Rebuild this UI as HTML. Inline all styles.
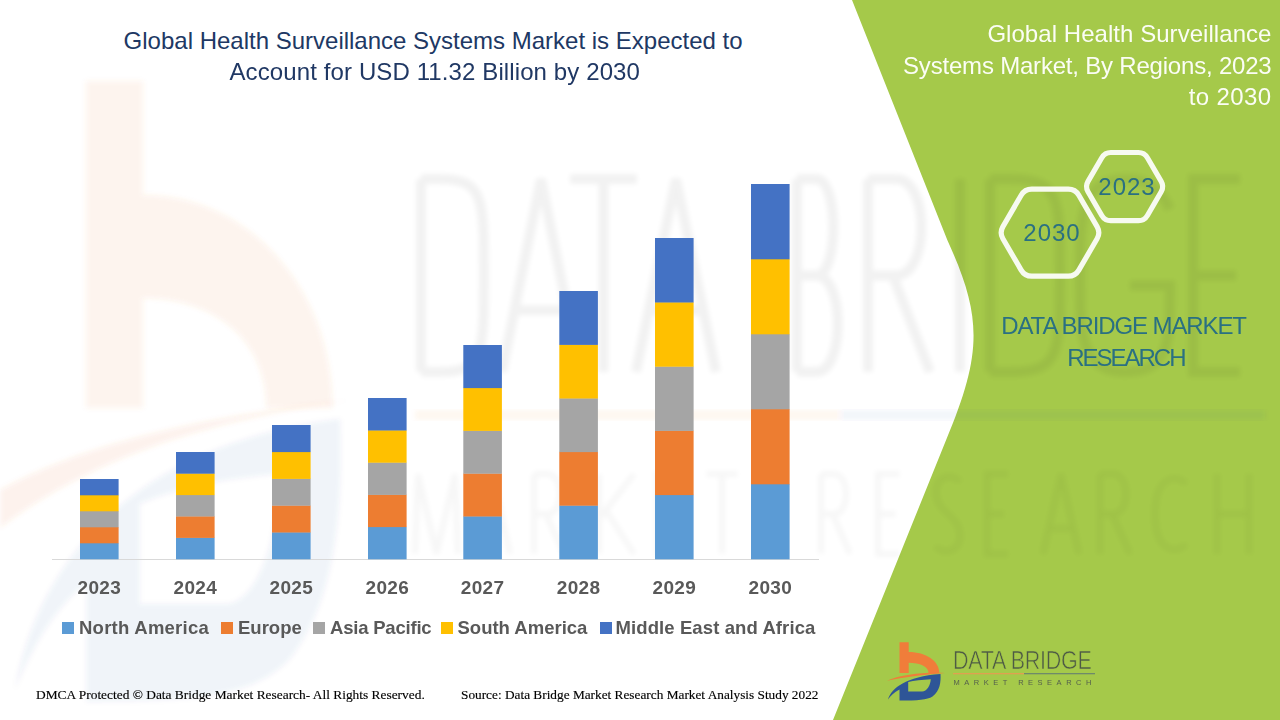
<!DOCTYPE html>
<html><head><meta charset="utf-8">
<style>
html,body{margin:0;padding:0;}
body{width:1280px;height:720px;position:relative;overflow:hidden;background:#fff;font-family:"Liberation Sans",sans-serif;}
.a{position:absolute;white-space:nowrap;line-height:1;}
.t1{font-size:24px;color:#203864;}
.rt{font-size:24px;color:#fbfdf5;right:8.5px;text-align:right;}
.yr{font-size:19px;font-weight:bold;color:#595959;width:60px;text-align:center;}
.lg{font-size:18.5px;font-weight:bold;color:#595959;}
.sq{position:absolute;width:12px;height:12px;}
.ft{font-family:"Liberation Serif",serif;font-size:13.4px;color:#000;-webkit-text-stroke:0.15px #000;}
.tl{color:#2a7082;font-size:24px;text-align:center;width:280px;}
</style></head><body>
<svg class="a" style="left:0;top:0" width="1280" height="720" viewBox="0 0 1280 720">
  <defs>
    <filter id="bl" x="-10%" y="-10%" width="120%" height="120%"><feGaussianBlur stdDeviation="2.5"/></filter>
    <filter id="bl2" x="-10%" y="-10%" width="120%" height="120%"><feGaussianBlur stdDeviation="1.8"/></filter>
  </defs>
  <path d="M852,0 L947.3,240 C982,316 983,352 946.1,440 L833,720 L1280,720 L1280,0 Z" fill="#a5c94a"/>
  <g filter="url(#bl)">
    <g transform="matrix(6.2,0,0,10.65,-22.5,13.9)">
      <path d="M17.5,6.3 L26.7,6.3 L26.7,17 C44,17 57.3,26 57.3,37 L46.6,37 C46.6,30.5 38,26.7 26.7,26.7 L26.7,37 L17.5,37 Z" fill="#ed7d31" opacity="0.085"/>
      <path d="M6,63.5 C9.5,52 24,40.5 58.5,38 C59,46 58,55 50.5,60.5 C45,64 36,64.6 17.5,64.6 L17.5,53.5 C12,56 8.5,60 6,63.5 Z M26.2,46 L26.2,55.4 L40,55.4 C45,55.2 48.2,50 48.8,43.2 C40,43.6 32,44.5 26.2,46 Z" fill="#2e5597" opacity="0.06" fill-rule="evenodd"/>
    </g>
  </g>
  <g filter="url(#bl)"><path d="M0,490 C70,452 170,420 350,400 C180,425 80,468 0,528 Z" fill="#ed7d31" opacity="0.09"/></g>
  <g filter="url(#bl)" opacity="0.05" fill="none" stroke="#000" stroke-width="10">
    <path d="M421,179 L421,372 M421,179 L439.9,179 C484,179 484,199 484,275.5 C484,352 484,372 439.9,372 L421,372 M502,372 L541.0,179 L580,372 M514.48,310.24 L567.52,310.24 M570,179 L637,179 M603.5,179 L603.5,372 M636,372 L676.0,179 L716,372 M648.8,310.24 L703.2,310.24 M797,179 L797,372 M797,179 L816.2,179 C839,179 839,275.5 816.2,275.5 L797,275.5 M816.2,275.5 C845,275.5 845,372 816.2,372 L797,372 M868,179 L868,372 M868,179 L895.9,179 C930,179 930,275.5 895.9,275.5 L868,275.5 M892.8,275.5 L930,372 M960,179 L960,372 M990,179 L990,372 M990,179 L1011.0,179 C1060,179 1060,199 1060,275.5 C1060,352 1060,372 1011.0,372 L990,372 M1170,209 C1155,179 1135.0,179 1125.0,179 C1080,179 1080,219 1080,275.5 C1080,332 1080,372 1125.0,372 C1170,372 1170,342 1170,285.5 L1130.0,285.5 M1240,179 L1193,179 L1193,372 L1240,372 M1193,275.5 L1236,275.5"/>
  </g>
  <g filter="url(#bl)" opacity="0.03" fill="none" stroke="#000" stroke-width="6">
    <path d="M415,554 L418,474 L436.5,554 L455,474 L458,554 M474,554 L492.0,474 L510,554 M479.76,528.4 L504.24,528.4 M534,474 L534,554 M534,474 L547.5,474 C564,474 564,514.0 547.5,514.0 L534,514.0 M546.0,514.0 L564,554 M599,474 L599,554 M634,474 L599,519.0 M607,512.0 L634,554 M684,474 L657,474 L657,554 L684,554 M657,514.0 L680,514.0 M706,474 L738,474 M722.0,474 L722.0,554 M821,474 L821,554 M821,474 L834.05,474 C850,474 850,514.0 834.05,514.0 L821,514.0 M832.6,514.0 L850,554 M900,474 L878,474 L878,554 L900,554 M878,514.0 L896,514.0 M960,482 C954,474 936,474 936,492 C936,514.0 960,514.0 960,536 C960,554 940,554 936,546 M1008,474 L987,474 L987,554 L1008,554 M987,514.0 L1004,514.0 M1043,554 L1061.0,474 L1079,554 M1048.76,528.4 L1073.24,528.4 M1100,474 L1100,554 M1100,474 L1113.5,474 C1130,474 1130,514.0 1113.5,514.0 L1100,514.0 M1112.0,514.0 L1130,554 M1186,484 C1178,474 1155,474 1155,514.0 C1155,554 1178,554 1186,544 M1217,474 L1217,554 M1249,474 L1249,554 M1217,514.0 L1249,514.0"/>
  </g>
  <g filter="url(#bl)">
    <rect x="415" y="410" width="425" height="10" fill="#ed7d31" opacity="0.06"/>
    <rect x="840" y="410" width="425" height="10" fill="#2e5597" opacity="0.05"/>
  </g>
</svg>

<div class="a t1" style="left:123.6px;top:29px">Global Health Surveillance Systems Market is Expected to</div>
<div class="a t1" style="left:229.5px;top:60px;letter-spacing:0.11px">Account for USD 11.32 Billion by 2030</div>

<div class="a" style="left:52px;top:559px;width:767px;height:1px;background:#d9d9d9"></div>
<svg class="a" style="left:0;top:0" width="1280" height="720"><rect x="80" y="543.00" width="38.6" height="16.30" fill="#5b9bd5"/><rect x="80" y="527.00" width="38.6" height="16.30" fill="#ed7d31"/><rect x="80" y="511.00" width="38.6" height="16.30" fill="#a5a5a5"/><rect x="80" y="495.00" width="38.6" height="16.30" fill="#ffc000"/><rect x="80" y="479.00" width="38.6" height="16.30" fill="#4472c4"/><rect x="176" y="537.60" width="38.6" height="21.70" fill="#5b9bd5"/><rect x="176" y="516.20" width="38.6" height="21.70" fill="#ed7d31"/><rect x="176" y="494.80" width="38.6" height="21.70" fill="#a5a5a5"/><rect x="176" y="473.40" width="38.6" height="21.70" fill="#ffc000"/><rect x="176" y="452.00" width="38.6" height="21.70" fill="#4472c4"/><rect x="272" y="532.20" width="38.6" height="27.10" fill="#5b9bd5"/><rect x="272" y="505.40" width="38.6" height="27.10" fill="#ed7d31"/><rect x="272" y="478.60" width="38.6" height="27.10" fill="#a5a5a5"/><rect x="272" y="451.80" width="38.6" height="27.10" fill="#ffc000"/><rect x="272" y="425.00" width="38.6" height="27.10" fill="#4472c4"/><rect x="368" y="526.80" width="38.6" height="32.50" fill="#5b9bd5"/><rect x="368" y="494.60" width="38.6" height="32.50" fill="#ed7d31"/><rect x="368" y="462.40" width="38.6" height="32.50" fill="#a5a5a5"/><rect x="368" y="430.20" width="38.6" height="32.50" fill="#ffc000"/><rect x="368" y="398.00" width="38.6" height="32.50" fill="#4472c4"/><rect x="463.3" y="516.20" width="38.6" height="43.10" fill="#5b9bd5"/><rect x="463.3" y="473.40" width="38.6" height="43.10" fill="#ed7d31"/><rect x="463.3" y="430.60" width="38.6" height="43.10" fill="#a5a5a5"/><rect x="463.3" y="387.80" width="38.6" height="43.10" fill="#ffc000"/><rect x="463.3" y="345.00" width="38.6" height="43.10" fill="#4472c4"/><rect x="559.3" y="505.40" width="38.6" height="53.90" fill="#5b9bd5"/><rect x="559.3" y="451.80" width="38.6" height="53.90" fill="#ed7d31"/><rect x="559.3" y="398.20" width="38.6" height="53.90" fill="#a5a5a5"/><rect x="559.3" y="344.60" width="38.6" height="53.90" fill="#ffc000"/><rect x="559.3" y="291.00" width="38.6" height="53.90" fill="#4472c4"/><rect x="655" y="494.80" width="38.6" height="64.50" fill="#5b9bd5"/><rect x="655" y="430.60" width="38.6" height="64.50" fill="#ed7d31"/><rect x="655" y="366.40" width="38.6" height="64.50" fill="#a5a5a5"/><rect x="655" y="302.20" width="38.6" height="64.50" fill="#ffc000"/><rect x="655" y="238.00" width="38.6" height="64.50" fill="#4472c4"/><rect x="751" y="484.00" width="38.6" height="75.30" fill="#5b9bd5"/><rect x="751" y="409.00" width="38.6" height="75.30" fill="#ed7d31"/><rect x="751" y="334.00" width="38.6" height="75.30" fill="#a5a5a5"/><rect x="751" y="259.00" width="38.6" height="75.30" fill="#ffc000"/><rect x="751" y="184.00" width="38.6" height="75.30" fill="#4472c4"/></svg><div class="a yr" style="left:69.30px;top:577.5px;letter-spacing:0.3px">2023</div><div class="a yr" style="left:165.30px;top:577.5px;letter-spacing:0.3px">2024</div><div class="a yr" style="left:261.30px;top:577.5px;letter-spacing:0.3px">2025</div><div class="a yr" style="left:357.30px;top:577.5px;letter-spacing:0.3px">2026</div><div class="a yr" style="left:452.60px;top:577.5px;letter-spacing:0.3px">2027</div><div class="a yr" style="left:548.60px;top:577.5px;letter-spacing:0.3px">2028</div><div class="a yr" style="left:644.30px;top:577.5px;letter-spacing:0.3px">2029</div><div class="a yr" style="left:740.30px;top:577.5px;letter-spacing:0.3px">2030</div>

<div class="a rt" style="top:22px;letter-spacing:0.05px">Global Health Surveillance</div>
<div class="a rt" style="top:54px;letter-spacing:-0.2px">Systems Market, By Regions, 2023</div>
<div class="a rt" style="top:84.7px;letter-spacing:0.4px">to 2030</div>

<svg class="a" style="left:0;top:0" width="1280" height="720" viewBox="0 0 1280 720">
  <path d="M1161.19,181.41 Q1164.20,186.60 1161.19,191.79 L1147.41,215.51 Q1144.40,220.70 1138.40,220.70 L1110.80,220.70 Q1104.80,220.70 1101.79,215.51 L1088.01,191.79 Q1085.00,186.60 1088.01,181.41 L1101.79,157.69 Q1104.80,152.50 1110.80,152.50 L1138.40,152.50 Q1144.40,152.50 1147.41,157.69 Z" fill="none" stroke="#f7faf0" stroke-width="5.2"/>
  <path d="M1097.08,226.65 Q1100.60,232.70 1097.08,238.75 L1078.82,270.15 Q1075.30,276.20 1068.30,276.20 L1031.70,276.20 Q1024.70,276.20 1021.18,270.15 L1002.92,238.75 Q999.40,232.70 1002.92,226.65 L1021.18,195.25 Q1024.70,189.20 1031.70,189.20 L1068.30,189.20 Q1075.30,189.20 1078.82,195.25 Z" fill="none" stroke="#f7faf0" stroke-width="5.2"/>
  <g transform="translate(882,636)">
    <path d="M17.5,6.3 L26.7,6.3 L26.7,16 C44,16 57.3,25 57.3,37 L46.6,37 C46.6,30.5 38,26.7 26.7,26.7 L26.7,37 L17.5,37 Z" fill="#f07d3a"/>
    <path d="M5,44.7 C20,38.5 40,36.2 63,37 C40,38.6 22,41.2 5,44.7 Z" fill="#f07d3a"/>
    <path d="M6,63.5 C9.5,52 24,40.5 58.5,38 C59,46 58,55 50.5,60.5 C45,64 36,64.6 17.5,64.6 L17.5,53.5 C12,56 8.5,60 6,63.5 Z M26.2,46 L26.2,55.4 L40,55.4 C45,55.2 48.2,50 48.8,43.2 C40,43.6 32,44.5 26.2,46 Z" fill="#2e5597" fill-rule="evenodd"/>
  </g>
  <rect x="953" y="673" width="71" height="1.3" fill="#e0a050"/>
  <rect x="1024" y="673" width="71" height="1.3" fill="#6f8a6a"/>
</svg>
<div class="a tl" style="left:987px;top:175.4px;letter-spacing:1px">2023</div>
<div class="a tl" style="left:912px;top:221px;letter-spacing:1px">2030</div>
<div class="a tl" style="left:983.6px;top:314px;letter-spacing:-1.1px">DATA BRIDGE MARKET</div>
<div class="a tl" style="left:985.85px;top:345.5px;letter-spacing:-2px">RESEARCH</div>

<div class="a" style="left:953px;top:648px;font-size:25px;color:#4d5a45;transform-origin:0 0;transform:scaleX(0.86);letter-spacing:-0.3px;-webkit-text-stroke:0.6px #a5c94a">DATA BRIDGE</div>
<div class="a" style="left:953.5px;top:679px;font-size:7.5px;color:#55604d;letter-spacing:4.5px">MARKET RESEARCH</div>

<div class="sq" style="left:62px;top:622px;background:#5b9bd5"></div>
<div class="a lg" style="left:79px;top:618.5px;letter-spacing:0.25px">North America</div>
<div class="sq" style="left:221px;top:622px;background:#ed7d31"></div>
<div class="a lg" style="left:238px;top:618.5px">Europe</div>
<div class="sq" style="left:313px;top:622px;background:#a5a5a5"></div>
<div class="a lg" style="left:330px;top:618.5px;letter-spacing:-0.2px">Asia Pacific</div>
<div class="sq" style="left:441px;top:622px;background:#ffc000"></div>
<div class="a lg" style="left:457.5px;top:618.5px">South America</div>
<div class="sq" style="left:599.5px;top:622px;background:#4472c4"></div>
<div class="a lg" style="left:615.5px;top:618.5px;letter-spacing:0.1px">Middle East and Africa</div>

<div class="a ft" style="left:36px;top:688px">DMCA Protected © Data Bridge Market Research- All Rights Reserved.</div>
<div class="a ft" style="left:461px;top:687.8px;font-size:13.3px">Source: Data Bridge Market Research Market Analysis Study 2022</div>
</body></html>
